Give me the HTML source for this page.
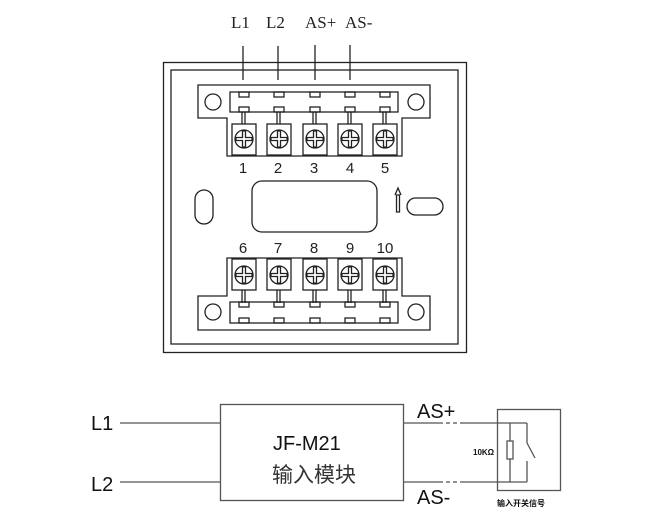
<!DOCTYPE html>
<html><head><meta charset="utf-8"><style>
html,body{margin:0;padding:0;background:#fff;width:650px;height:521px;overflow:hidden}
svg{display:block}
</style></head><body>
<svg id="s" width="650" height="521" viewBox="0 0 650 521" xmlns="http://www.w3.org/2000/svg" fill="none" stroke="#222" stroke-width="1.3">
<g font-family="Liberation Serif, serif" font-size="17" fill="#222" stroke="none">
<text x="231" y="28">L1</text><text x="266" y="28">L2</text><text x="305" y="28">AS+</text><text x="345" y="28">AS-</text>
</g>
<line x1="243" y1="46" x2="243" y2="80"/><line x1="278" y1="46" x2="278" y2="80"/>
<line x1="315" y1="45" x2="315" y2="80"/><line x1="350" y1="45" x2="350" y2="80"/>
<rect x="163.5" y="62.5" width="303" height="290"/>
<rect x="171" y="70" width="287" height="274"/>
<!-- top strip -->
<polygon points="198,85 430,85 430,118 402,118 402,156 227,156 227,118 198,118"/>
<rect x="230" y="92" width="168" height="20"/>
<circle cx="213" cy="102" r="8"/><circle cx="416" cy="102" r="8"/>
<!-- bottom strip -->
<polygon points="227,258 402,258 402,296 430,296 430,330 198,330 198,296 227,296"/>
<rect x="230" y="302" width="168" height="21"/>
<circle cx="213" cy="312" r="8"/><circle cx="416" cy="312" r="8"/>
<g id="terms"></g>
<g font-family="Liberation Sans, sans-serif" font-size="15" fill="#222" stroke="none" text-anchor="middle">
<text x="243" y="173">1</text><text x="278" y="173">2</text><text x="314" y="173">3</text><text x="350" y="173">4</text><text x="385" y="173">5</text>
<text x="243" y="253">6</text><text x="278" y="253">7</text><text x="314" y="253">8</text><text x="350" y="253">9</text><text x="385" y="253">10</text>
</g>
<rect x="195" y="190" width="18" height="34" rx="9"/>
<rect x="252" y="181" width="125" height="51" rx="10"/>
<rect x="407" y="198" width="36" height="17" rx="8.5"/>
<path d="M396.5,212 V195 H399.5 V212 Z M395,195 L398,188 L401,195"/>
<!-- lower diagram -->
<g stroke="#555">
<rect x="220.5" y="404.5" width="183" height="96"/>
<line x1="120" y1="423" x2="220" y2="423"/><line x1="120" y1="482" x2="220" y2="482"/>
<line x1="404" y1="423" x2="443" y2="423"/><line x1="446" y1="423" x2="450" y2="423"/><line x1="453" y1="423" x2="457" y2="423"/><line x1="460" y1="423" x2="527" y2="423"/>
<line x1="404" y1="482" x2="443" y2="482"/><line x1="446" y1="482" x2="450" y2="482"/><line x1="453" y1="482" x2="457" y2="482"/><line x1="460" y1="482" x2="527" y2="482"/>
<rect x="497.5" y="409.5" width="63" height="81"/>
<line x1="510" y1="423" x2="510" y2="482"/>
<rect x="507" y="441" width="6" height="18" fill="#fff"/>
<line x1="527" y1="423" x2="527" y2="443"/><line x1="527" y1="443" x2="535" y2="458"/>
<line x1="527" y1="461" x2="527" y2="482"/>
</g>
<g font-family="Liberation Sans, 'Noto Sans CJK SC', sans-serif" fill="#111" stroke="none">
<text x="91" y="430" font-size="20">L1</text><text x="91" y="491" font-size="20">L2</text>
<text x="417" y="418" font-size="20">AS+</text><text x="417" y="504" font-size="20">AS-</text>
<text x="273" y="450" font-size="20">JF-M21</text>
<text x="272" y="482" font-size="21" fill="#333">输入模块</text>
<text x="473" y="455" font-size="8" font-weight="bold">10KΩ</text>
<text x="497" y="506" font-size="8" font-weight="bold">输入开关信号</text>
</g>
</svg>
<script>
var g=document.getElementById('terms'),h='',xs=[244,279,315,350,385];
xs.forEach(function(x){
 // top
 h+='<rect x="'+(x-5)+'" y="92" width="10" height="5"/><rect x="'+(x-5)+'" y="107" width="10" height="5"/>';
 h+='<line x1="'+(x-2)+'" y1="112" x2="'+(x-2)+'" y2="124"/><line x1="'+(x+1)+'" y1="112" x2="'+(x+1)+'" y2="124"/>';
 h+='<rect x="'+(x-12)+'" y="124" width="24" height="31"/>';
 h+=screw(x,139);
 // bottom
 h+='<rect x="'+(x-12)+'" y="259" width="24" height="31"/>';
 h+=screw(x,275);
 h+='<line x1="'+(x-2)+'" y1="290" x2="'+(x-2)+'" y2="303"/><line x1="'+(x+1)+'" y1="290" x2="'+(x+1)+'" y2="303"/>';
 h+='<rect x="'+(x-5)+'" y="302" width="10" height="5"/><rect x="'+(x-5)+'" y="318" width="10" height="5"/>';
});
function screw(x,y){return '<circle cx="'+x+'" cy="'+y+'" r="9"/><path d="M'+(x-1.5)+','+(y-8)+' V'+(y-1.5)+' H'+(x-8)+' V'+(y+1.5)+' H'+(x-1.5)+' V'+(y+8)+' H'+(x+1.5)+' V'+(y+1.5)+' H'+(x+8)+' V'+(y-1.5)+' H'+(x+1.5)+' V'+(y-8)+' Z"/>';}
g.innerHTML=h;
</script>
</body></html>
